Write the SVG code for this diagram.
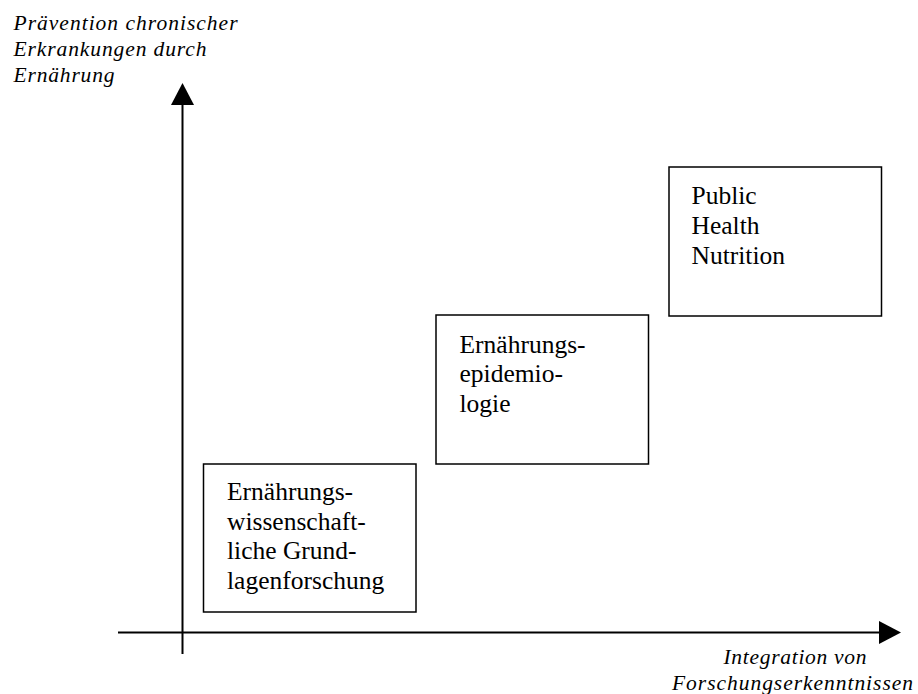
<svg xmlns="http://www.w3.org/2000/svg" width="918" height="694" viewBox="0 0 918 694">
<style>
.box{fill:#fff;stroke:#000;stroke-width:1.5}
.ax{stroke:#000;stroke-width:2;fill:none}
.t{font-family:"Liberation Serif","Times New Roman",serif;font-size:25.5px;fill:#000}
.it{font-family:"Liberation Serif","Times New Roman",serif;font-size:21.5px;font-style:italic;fill:#000}
</style>
<defs>
<marker id="ah" viewBox="0 0 22 23" refX="0" refY="11.5" markerWidth="22" markerHeight="23" markerUnits="userSpaceOnUse" orient="auto">
<path d="M0,0 L22,11.5 L0,23 Z" fill="#000"/>
</marker>
</defs>
<rect width="918" height="694" fill="#fff"/>
<g id="connectors">
<line class="ax" x1="182.5" y1="654" x2="182.5" y2="105" marker-end="url(#ah)"/>
<line class="ax" x1="118" y1="632.5" x2="879" y2="632.5" marker-end="url(#ah)"/>
</g>
<g id="label-y">
<text class="it" x="13.5" y="30" textLength="224" lengthAdjust="spacing">Prävention chronischer</text>
<text class="it" x="13.5" y="56" textLength="193" lengthAdjust="spacing">Erkrankungen durch</text>
<text class="it" x="13.5" y="82" textLength="101" lengthAdjust="spacing">Ernährung</text>
</g>
<g id="label-x">
<text class="it" x="723.5" y="663.5" textLength="143" lengthAdjust="spacing">Integration von</text>
<text class="it" x="672" y="690" textLength="241" lengthAdjust="spacing">Forschungserkenntnissen</text>
</g>
<g id="node-grundlagen">
<rect class="box" x="203.5" y="464" width="212.5" height="148"/>
<text class="t" x="227" y="500">Ernährungs-</text>
<text class="t" x="227" y="529.5">wissenschaft-</text>
<text class="t" x="227" y="559">liche Grund-</text>
<text class="t" x="227" y="588.5">lagenforschung</text>
</g>
<g id="node-epidemiologie">
<rect class="box" x="436" y="315" width="212.5" height="149"/>
<text class="t" x="459.5" y="352.5">Ernährungs-</text>
<text class="t" x="459.5" y="382">epidemio-</text>
<text class="t" x="459.5" y="411.5">logie</text>
</g>
<g id="node-phn">
<rect class="box" x="669" y="167" width="212.5" height="149"/>
<text class="t" x="691.5" y="203.5">Public</text>
<text class="t" x="691.5" y="233.5">Health</text>
<text class="t" x="691.5" y="263.5">Nutrition</text>
</g>
</svg>
